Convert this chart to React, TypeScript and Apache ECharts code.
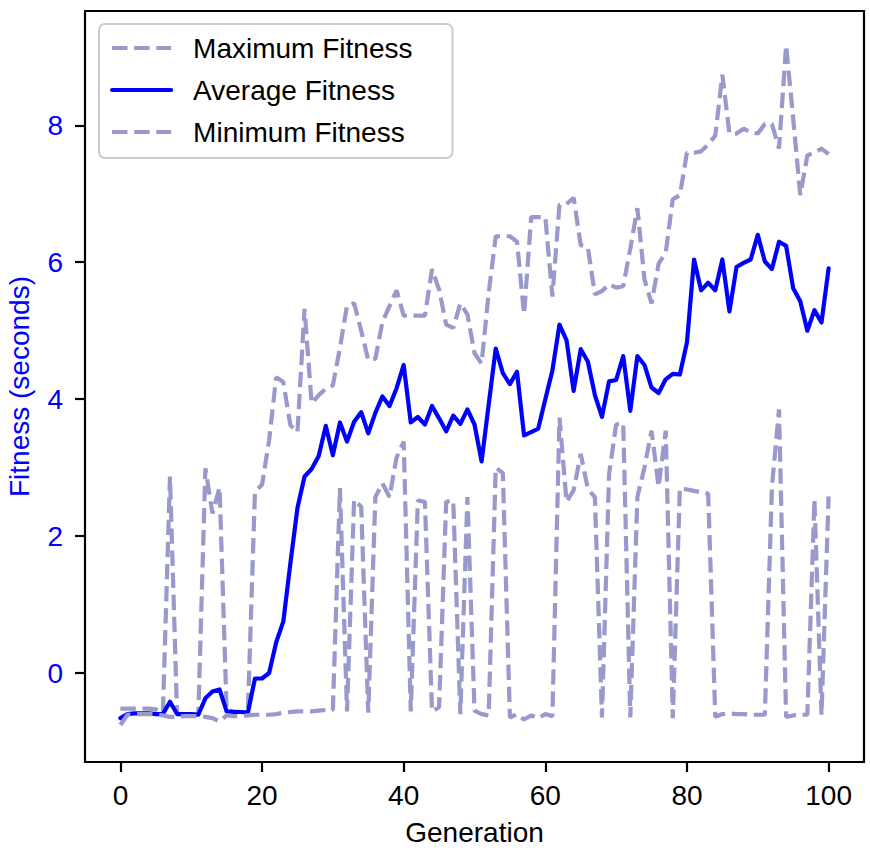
import React, { useEffect, useRef } from "react";
import * as echarts from "echarts";

const generations: number[] = Array.from({ length: 101 }, (_, i) => i);

const maxFitness: number[] = [
  -0.52, -0.52, -0.52, -0.52, -0.52, -0.53, -0.58, 2.87, -0.6, -0.6,
  -0.6, -0.6, 2.99, 2.33, 2.71, -0.54, -0.56, -0.57, -0.57, 2.65,
  2.75, 3.4, 4.32, 4.25, 3.62, 3.52, 5.32, 3.94, 4.06, 4.15,
  4.2, 4.75, 5.37, 5.4, 5.0, 4.57, 4.59, 5.13, 5.36, 5.59,
  5.22, 5.22, 5.22, 5.22, 5.9, 5.6, 5.09, 5.04, 5.4, 5.24,
  4.67, 4.52, 5.55, 6.38, 6.38, 6.38, 6.3, 5.24, 6.66, 6.66,
  6.66, 5.5, 6.84, 6.85, 6.94, 6.25, 6.22, 5.53, 5.58, 5.68,
  5.63, 5.65, 6.2, 6.79, 5.75, 5.4, 5.98, 6.14, 6.92, 6.98,
  7.6, 7.6, 7.62, 7.72, 7.85, 8.74, 7.88, 7.88, 7.95, 7.9,
  7.88, 8.02, 8.02, 7.66, 9.17, 8.1, 6.98, 7.56, 7.6, 7.66,
  7.58,
];

const avgFitness: number[] = [
  -0.66, -0.6, -0.59, -0.59, -0.59, -0.6, -0.6, -0.42, -0.6, -0.6,
  -0.6, -0.61, -0.37, -0.27, -0.24, -0.56, -0.57, -0.57, -0.58, -0.08,
  -0.08, 0.0, 0.45, 0.75, 1.6, 2.41, 2.87, 2.98, 3.17, 3.61,
  3.18, 3.66, 3.38, 3.67, 3.81, 3.5, 3.8, 4.04, 3.9, 4.16,
  4.5, 3.66, 3.74, 3.63, 3.9, 3.72, 3.53, 3.76, 3.64, 3.85,
  3.63, 3.09, 3.92, 4.74, 4.38, 4.22, 4.4, 3.47, 3.52, 3.57,
  4.0, 4.42, 5.09, 4.86, 4.12, 4.73, 4.55, 4.06, 3.74, 4.26,
  4.28, 4.63, 3.83, 4.63, 4.5, 4.17, 4.09, 4.29, 4.37, 4.36,
  4.83, 6.04, 5.59, 5.7, 5.59, 6.04, 5.28, 5.93, 5.99, 6.04,
  6.4, 6.01, 5.9, 6.3, 6.24, 5.62, 5.43, 5.0, 5.3, 5.12,
  5.91,
];

const minFitness: number[] = [
  -0.76, -0.61, -0.6, -0.6, -0.6, -0.6, -0.62, -0.64, -0.64, -0.63,
  -0.63, -0.63, -0.64, -0.66, -0.71, -0.62, -0.63, -0.63, -0.62, -0.61,
  -0.61, -0.61, -0.6, -0.58, -0.57, -0.56, -0.56, -0.56, -0.55, -0.54,
  -0.54, 2.7, -0.56, 2.53, 2.43, -0.58, 2.57, 2.77, 2.57, 3.15,
  3.38, -0.56, 2.52, 2.5, -0.56, -0.5, 2.5, 2.52, -0.6, 2.57,
  -0.55, -0.6, -0.62, 3.0, 2.92, -0.65, -0.6, -0.68, -0.62, -0.66,
  -0.6, -0.63, 3.73, 2.5, 2.67, 3.2, 2.69, 2.57, -0.65, 2.9,
  3.63, 3.65, -0.65, 2.57, 3.0, 3.54, 2.72, 3.54, -0.66, 2.7,
  2.68, 2.66, 2.64, 2.62, -0.64, -0.6, -0.59, -0.6, -0.6, -0.61,
  -0.61, -0.61, 2.72, 3.85, -0.64, -0.62, -0.61, -0.61, 2.53, -0.61,
  2.58,
];

const xTicks: number[] = [0, 20, 40, 60, 80, 100];
const yTicks: number[] = [0, 2, 4, 6, 8];

const seriesNames = ["Maximum Fitness", "Average Fitness", "Minimum Fitness"];

const FONT = "'Liberation Sans', Arial, Helvetica, sans-serif";
const DASH_COLOR = "#9999cc";
const BLUE = "#0000ff";

export default function App() {
  const ref = useRef<HTMLDivElement>(null);

  useEffect(() => {
    if (!ref.current) return;
    const chart = echarts.init(ref.current, null, { renderer: "svg" });
    const pairs = (vals: number[]) => generations.map((g, i) => [g, vals[i]]);
    const dashed = { color: DASH_COLOR, width: 4.2, type: [15.4, 6.7] as number[], cap: "butt" as const };

    chart.setOption({
      animation: false,
      backgroundColor: "#ffffff",
      grid: {
        left: 85,
        right: 6,
        top: 11,
        bottom: 94,
        containLabel: false,
        outerBoundsMode: "none",
        show: true,
        borderColor: "#000",
        borderWidth: 2.2,
        backgroundColor: "transparent",
      },
      legend: {
        data: seriesNames,
        orient: "vertical",
        left: 99,
        top: 24,
        padding: [8, 40, 10, 11],
        itemWidth: 59,
        itemHeight: 14,
        itemGap: 10,
        backgroundColor: "rgba(255,255,255,0.8)",
        borderColor: "#cccccc",
        borderWidth: 2,
        borderRadius: 6,
        itemStyle: { opacity: 0 },
        lineStyle: { width: 4.2 },
        textStyle: {
          fontSize: 28,
          fontFamily: FONT,
          color: "#000",
          lineHeight: 32,
          padding: [0, 0, 0, 17],
        },
      },
      xAxis: {
        type: "value",
        min: -5,
        max: 105,
        name: "Generation",
        nameLocation: "middle",
        nameGap: 56,
        nameTextStyle: { fontSize: 28, fontFamily: FONT, color: "#000" },
        axisLine: { show: false, onZero: false },
        splitLine: { show: false },
        axisTick: {
          show: true,
          length: 10,
          inside: false,
          customValues: xTicks,
          lineStyle: { color: "#000", width: 2.2 },
        },
        axisLabel: {
          customValues: xTicks,
          fontSize: 28,
          fontFamily: FONT,
          color: "#000",
          margin: 19,
        },
      },
      yAxis: {
        type: "value",
        min: -1.3,
        max: 9.67,
        name: "Fitness (seconds)",
        nameLocation: "middle",
        nameGap: 52,
        nameTextStyle: { fontSize: 28, fontFamily: FONT, color: BLUE },
        axisLine: { show: false, onZero: false },
        splitLine: { show: false },
        axisTick: {
          show: true,
          length: 10,
          inside: false,
          customValues: yTicks,
          lineStyle: { color: "#000", width: 2.2 },
        },
        axisLabel: {
          customValues: yTicks,
          fontSize: 28,
          fontFamily: FONT,
          color: BLUE,
          margin: 22,
        },
      },
      series: [
        {
          name: seriesNames[0],
          type: "line",
          data: pairs(maxFitness),
          symbol: "none",
          lineStyle: dashed,
          itemStyle: { color: DASH_COLOR },
          z: 2,
        },
        {
          name: seriesNames[1],
          type: "line",
          data: pairs(avgFitness),
          symbol: "none",
          lineStyle: { color: BLUE, width: 4.2, join: "round", cap: "round" },
          itemStyle: { color: BLUE },
          z: 3,
        },
        {
          name: seriesNames[2],
          type: "line",
          data: pairs(minFitness),
          symbol: "none",
          lineStyle: dashed,
          itemStyle: { color: DASH_COLOR },
          z: 4,
        },
      ],
    });
    return () => chart.dispose();
  }, []);

  return (
    <div
      ref={ref}
      style={{ position: "absolute", left: 0, top: 0, width: 870, height: 856, background: "#fff" }}
    />
  );
}
